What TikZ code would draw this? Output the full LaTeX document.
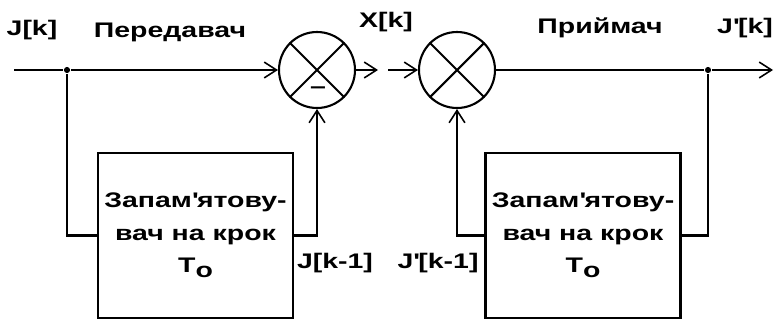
\documentclass[tikz,border=0pt]{standalone}
\usepackage{fontspec}
\setmainfont{Liberation Sans}[FakeStretch=1.35]
\usetikzlibrary{arrows.meta, positioning}

\begin{document}
\begin{tikzpicture}[
  x=0.02cm, y=-0.02cm,
  line width=1.2pt,
  summer/.style={circle, draw, minimum size=1.52cm, inner sep=0pt},
  delay/.style={rectangle, draw, minimum width=3.9cm, minimum height=3.3cm, align=center, font=\fontsize{12}{18.5}\selectfont\bfseries},
  arrow/.style={-{Straight Barb[length=7pt, width=9pt, line width=0.9pt]}},
  lbl/.style={font=\fontsize{12}{14}\selectfont\bfseries, inner sep=1pt},
  tap/.style={circle, fill, inner sep=0pt, minimum size=3.5pt},
]
  \useasboundingbox (0,0) rectangle (776,321);

  % transmitter
  \coordinate (in) at (14,70);
  \node[tap] (split) at (67,70) {};
  \node[summer] (sub) at (317,70) {};
  \draw (sub.north west) -- (sub.south east) (sub.north east) -- (sub.south west);
  \node[lbl] (minus) at (318,90) {--};
  \node[delay] (mem1) at (195.5,235.5) {Запам\textquotesingle ятову-\\вач на крок\\T\raisebox{-0.45ex}{o}};
  \coordinate (chout) at (378,70);

  % receiver
  \coordinate (chin) at (388,70);
  \node[summer] (add) at (457,70) {};
  \draw (add.north west) -- (add.south east) (add.north east) -- (add.south west);
  \node[tap] (split2) at (708,70) {};
  \coordinate (out) at (773,70);
  \node[delay] (mem2) at (583,235.5) {Запам\textquotesingle ятову-\\вач на крок\\T\raisebox{-0.45ex}{o}};

  \draw (in) -- (split);
  \draw[arrow] (split) -- (sub);
  \draw[arrow] (sub) -- (chout);
  \draw (mem1.west) -| (split);
  \draw[arrow] (mem1.east) -| (sub.south);

  \draw[arrow] (chin) -- (add);
  \draw (add) -- (split2);
  \draw[arrow] (split2) -- (out);
  \draw (mem2.east) -| (split2);
  \draw[arrow] (mem2.west) -| (add.south);

  % signal names
  \node[lbl] (jk) at (32,30) {J[k]};
  \node[lbl] (txname) at (170,32) {Передавач};
  \node[lbl] (xk) at (386,22) {X[k]};
  \node[lbl] (rxname) at (600,28) {Приймач};
  \node[lbl] (jpk) at (745,28) {J\textquotesingle[k]};
  \node[lbl] (jk1) at (335,263) {J[k-1]};
  \node[lbl] (jpk1) at (438,263) {J\textquotesingle[k-1]};
\end{tikzpicture}
\end{document}
